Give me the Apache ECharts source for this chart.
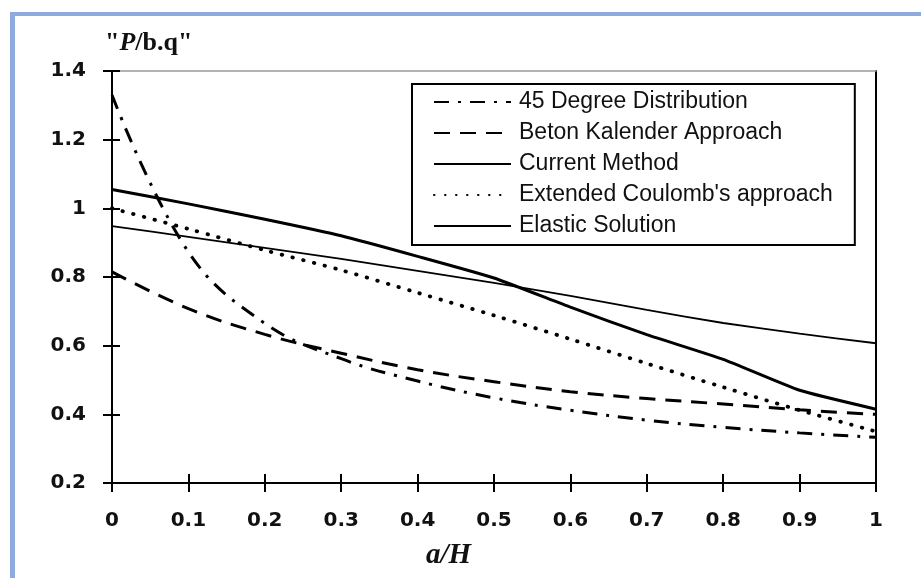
<!DOCTYPE html>
<html>
<head>
<meta charset="utf-8">
<title>P/b.q versus a/H</title>
<script src="https://cdn.jsdelivr.net/npm/echarts@6/dist/echarts.min.js"></script>
<style>
  html, body { margin: 0; padding: 0; background: #fff; }
  #chart { width: 921px; height: 578px; }
</style>
</head>
<body>
<div id="chart"></div>
<script>
// a/H positions along the horizontal axis
const aH = [0, 0.1, 0.2, 0.3, 0.4, 0.5, 0.6, 0.7, 0.8, 0.9, 1];

// P/b.q for each method
const deg45 = [1.33, 0.873, 0.665, 0.562, 0.497, 0.448, 0.412, 0.383, 0.362, 0.346, 0.333];
const betonKalender = [0.815, 0.708, 0.633, 0.578, 0.530, 0.495, 0.466, 0.446, 0.430, 0.413, 0.400];
const currentMethod = [1.055, 1.013, 0.968, 0.920, 0.860, 0.797, 0.712, 0.632, 0.560, 0.470, 0.415];
const extCoulomb = [1.0, 0.940, 0.878, 0.820, 0.754, 0.688, 0.619, 0.548, 0.479, 0.412, 0.350];
const elastic = [0.948, 0.917, 0.885, 0.853, 0.818, 0.783, 0.745, 0.704, 0.666, 0.635, 0.607];

const seriesNames = [
  '45 Degree Distribution',
  'Beton Kalender Approach',
  'Current Method',
  "Extended Coulomb's approach",
  'Elastic Solution'
];

const xTicks = { min: 0, max: 1, interval: 0.1 };
const yTicks = { min: 0.2, max: 1.4, interval: 0.2 };

const pairs = ys => aH.map((x, i) => [x, ys[i]]);

const tickFont = {
  fontFamily: 'DejaVu Sans',
  fontWeight: 'bold',
  fontSize: 20,
  color: '#111'
};

const chart = echarts.init(document.getElementById('chart'), null, { renderer: 'canvas' });

chart.setOption({
  animation: false,
  backgroundColor: '#fff',
  grid: { left: 112, right: 45, top: 71, bottom: 95, containLabel: false },
  xAxis: [
    {
      type: 'value', position: 'bottom', ...xTicks,
      axisLine: { onZero: false, lineStyle: { color: '#000', width: 2 } },
      axisTick: { inside: false, length: 9, lineStyle: { color: '#000', width: 2 } },
      axisLabel: { ...tickFont, margin: 28 },
      splitLine: { show: false }
    },
    {
      type: 'value', position: 'bottom', ...xTicks,
      axisLine: { show: false, onZero: false },
      axisTick: { inside: true, length: 9, lineStyle: { color: '#000', width: 2 } },
      axisLabel: { show: false },
      splitLine: { show: false }
    },
    {
      type: 'value', position: 'top', ...xTicks,
      axisLine: { onZero: false, lineStyle: { color: '#9a9a9a', width: 1.5 } },
      axisTick: { show: false },
      axisLabel: { show: false },
      splitLine: { show: false }
    }
  ],
  yAxis: [
    {
      type: 'value', position: 'left', ...yTicks,
      axisLine: { onZero: false, lineStyle: { color: '#000', width: 2 } },
      axisTick: { inside: false, length: 9, lineStyle: { color: '#000', width: 2 } },
      axisLabel: { ...tickFont, margin: 26 },
      splitLine: { show: false }
    },
    {
      type: 'value', position: 'left', ...yTicks,
      axisLine: { show: false, onZero: false },
      axisTick: { inside: true, length: 8, lineStyle: { color: '#000', width: 2 } },
      axisLabel: { show: false },
      splitLine: { show: false }
    },
    {
      type: 'value', position: 'right', ...yTicks,
      axisLine: { onZero: false, lineStyle: { color: '#000', width: 2 } },
      axisTick: { show: false },
      axisLabel: { show: false },
      splitLine: { show: false }
    }
  ],
  legend: {
    orient: 'vertical',
    left: 412,
    top: 84,
    padding: [6, 22, 7, 21],
    borderColor: '#000',
    borderWidth: 2,
    backgroundColor: '#fff',
    itemWidth: 77,
    itemHeight: 14,
    itemGap: 7,
    // line samples only, no marker dot
    itemStyle: { opacity: 0 },
    textStyle: {
      fontFamily: 'Liberation Sans',
      fontSize: 23,
      lineHeight: 24,
      color: '#111',
      padding: [0, 0, 0, 3]
    },
    data: seriesNames
  },
  series: [
    {
      name: seriesNames[0], type: 'line', data: pairs(deg45),
      symbol: 'none', smooth: 0.4,
      lineStyle: { color: '#000', width: 3, type: [15, 9, 3, 9] },
      itemStyle: { color: '#000' }, z: 3
    },
    {
      name: seriesNames[1], type: 'line', data: pairs(betonKalender),
      symbol: 'none', smooth: 0.4,
      lineStyle: { color: '#000', width: 3, type: [16, 10] },
      itemStyle: { color: '#000' }, z: 3
    },
    {
      name: seriesNames[2], type: 'line', data: pairs(currentMethod),
      symbol: 'none', smooth: 0.15,
      lineStyle: { color: '#000', width: 3, type: 'solid' },
      itemStyle: { color: '#000' }, z: 3
    },
    {
      name: seriesNames[3], type: 'line', data: pairs(extCoulomb),
      symbol: 'none', smooth: 0.3,
      lineStyle: { color: '#000', width: 3.8, type: [0.5, 10.5], cap: 'round' },
      itemStyle: { color: '#000' }, z: 3
    },
    {
      name: seriesNames[4], type: 'line', data: pairs(elastic),
      symbol: 'none', smooth: 0.2,
      lineStyle: { color: '#000', width: 1.8, type: 'solid' },
      itemStyle: { color: '#000' }, z: 3
    }
  ],
  graphic: [
    // light blue page frame along the left and top edges
    { type: 'rect', left: 10, top: 12, shape: { width: 5, height: 566 }, style: { fill: '#8faadc' }, silent: true },
    { type: 'rect', left: 10, top: 12, shape: { width: 911, height: 4 }, style: { fill: '#8faadc' }, silent: true },
    // vertical axis title
    {
      type: 'text', left: 105, top: 30, silent: true,
      style: {
        text: '{q|"}{p|P}{q|/b.q"}',
        rich: {
          q: { fontFamily: 'Liberation Serif', fontWeight: 'bold', fontSize: 26, fill: '#111' },
          p: { fontFamily: 'Liberation Serif', fontWeight: 'bold', fontStyle: 'italic', fontSize: 26, fill: '#111' }
        }
      }
    },
    // horizontal axis title
    {
      type: 'text', left: 426, top: 541, silent: true,
      style: {
        text: 'a/H',
        fontFamily: 'Liberation Serif', fontWeight: 'bold', fontStyle: 'italic', fontSize: 29, fill: '#111'
      }
    }
  ]
});
</script>
</body>
</html>
